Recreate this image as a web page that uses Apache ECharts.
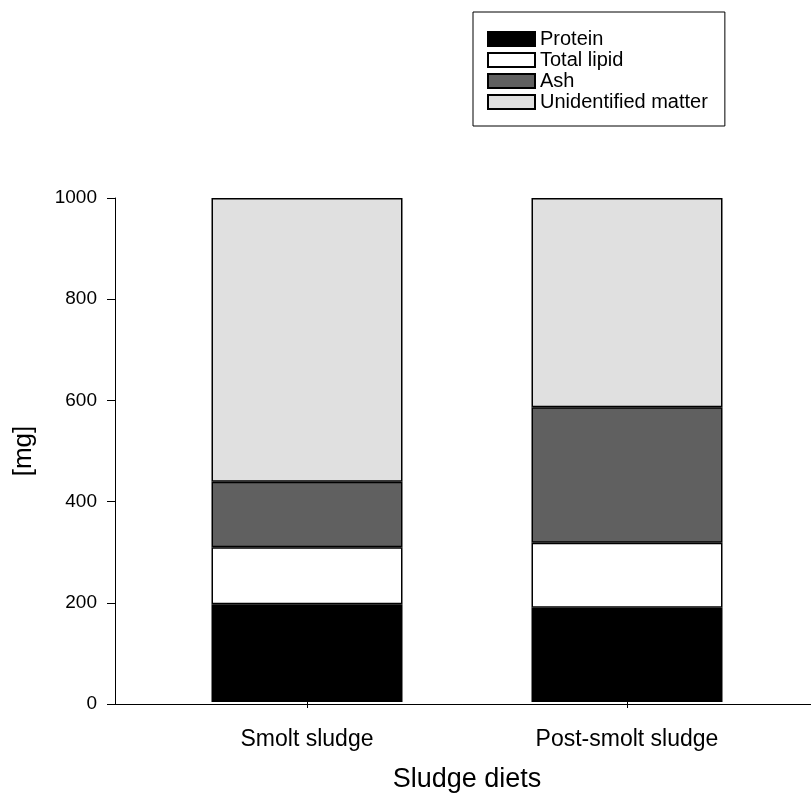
<!DOCTYPE html>
<html><head><meta charset="utf-8">
<script src="https://cdn.jsdelivr.net/npm/echarts@6/dist/echarts.min.js"></script>
<style>html,body{margin:0;padding:0;background:#fff}#c{width:811px;height:798px}</style>
</head><body><div id="c"></div>
<script>
const categories = ['Smolt sludge', 'Post-smolt sludge'];
const protein = [194, 187];
const totalLipid = [113, 129];
const ash = [130, 269];
const unidentified = [563, 415];
const yTicks = [0, 200, 400, 600, 800, 1000];

const seriesDefs = [
  { name: 'Protein', data: protein, color: '#000000' },
  { name: 'Total lipid', data: totalLipid, color: '#ffffff' },
  { name: 'Ash', data: ash, color: '#606060' },
  { name: 'Unidentified matter', data: unidentified, color: '#e0e0e0' }
];
const FONT = 'Liberation Sans, Arial, sans-serif';

const chart = echarts.init(document.getElementById('c'), null, { renderer: 'canvas' });
chart.setOption({
  animation: false,
  backgroundColor: '#fff',
  textStyle: { fontFamily: FONT, color: '#000' },
  legend: {
    orient: 'vertical', left: 473, top: 12,
    padding: [17, 17, 14, 14],
    borderColor: '#000', borderWidth: 1,
    itemWidth: 47, itemHeight: 14, itemGap: 1,
    textStyle: { fontSize: 20, color: '#000', fontFamily: FONT },
    data: seriesDefs.map(s => ({ name: s.name, icon: 'rect' }))
  },
  grid: [
    { left: 147, right: 24, top: 198, bottom: 94 },
    { left: 115, right: 0, top: 198, bottom: 94 }
  ],
  xAxis: [
    {
      type: 'category', gridIndex: 0, data: categories,
      axisLine: { show: false },
      axisTick: { show: true, alignWithLabel: true, length: 6, lineStyle: { color: '#000' } },
      axisLabel: { fontSize: 23, color: '#000', margin: 26, fontFamily: FONT },
      name: 'Sludge diets', nameLocation: 'middle', nameGap: 64,
      nameTextStyle: { fontSize: 27, color: '#000', fontFamily: FONT },
      splitLine: { show: false }
    },
    {
      type: 'value', gridIndex: 1, min: 0, max: 1,
      axisLine: { show: true, lineStyle: { color: '#000', width: 1 } },
      axisTick: { show: false }, axisLabel: { show: false }, splitLine: { show: false }
    }
  ],
  yAxis: [
    {
      type: 'value', gridIndex: 0, min: 0, max: 1000, interval: 200,
      axisLine: { show: false }, axisTick: { show: false }, axisLabel: { show: false }, splitLine: { show: false }
    },
    {
      type: 'value', gridIndex: 1, min: 0, max: 1000, interval: 200,
      name: '[mg]', nameLocation: 'middle', nameGap: 78, nameRotate: 90,
      nameTextStyle: { fontSize: 26, color: '#000', fontFamily: FONT },
      axisLine: { show: true, lineStyle: { color: '#000', width: 1 } },
      axisTick: { show: true, length: 8, lineStyle: { color: '#000' } },
      axisLabel: { fontSize: 19, color: '#000', margin: 18, fontFamily: FONT,
        formatter: v => yTicks.includes(v) ? String(v) : '' },
      splitLine: { show: false }
    }
  ],
  series: seriesDefs.map(s => ({
    name: s.name, type: 'bar', stack: 'total', barWidth: 191,
    xAxisIndex: 0, yAxisIndex: 0,
    itemStyle: { color: s.color, borderColor: '#000', borderWidth: 1.5 },
    data: s.data
  }))
});
</script></body></html>
